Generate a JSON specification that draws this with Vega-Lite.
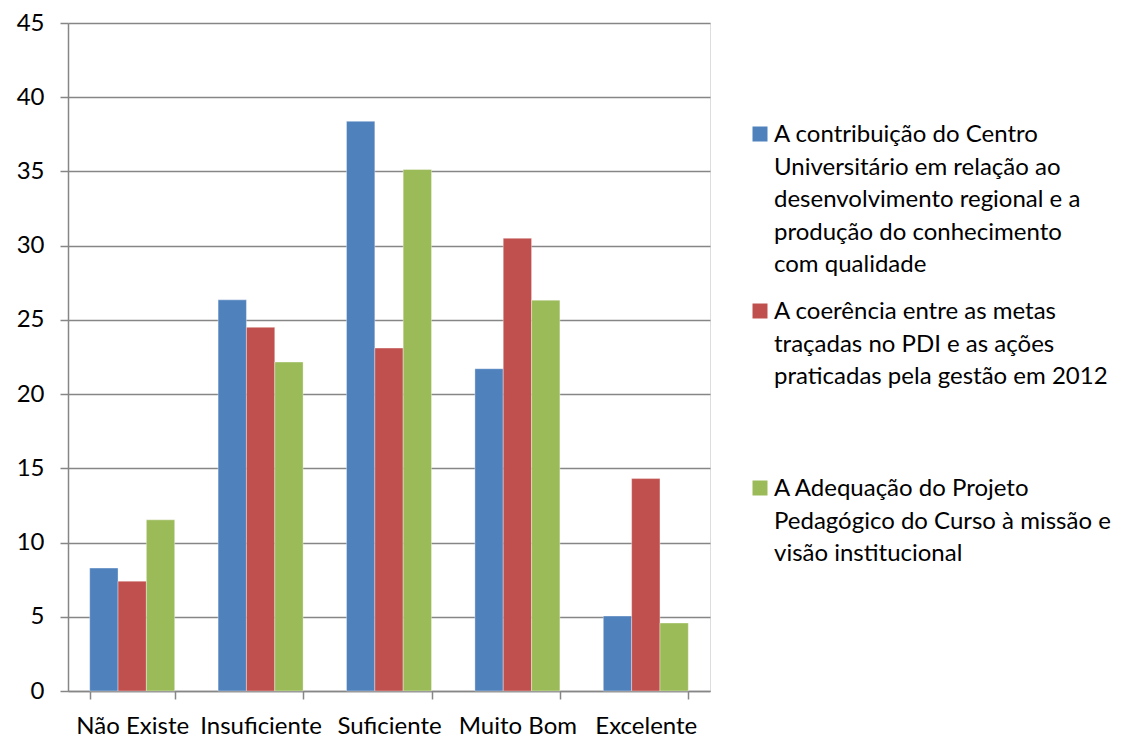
{
  "$schema": "https://vega.github.io/schema/vega-lite/v6.json",
  "width": 642,
  "height": 668,
  "autosize": {"type": "none"},
  "padding": {"left": 68, "top": 23, "right": 412, "bottom": 47},
  "background": "white",
  "config": {
    "style": {"guide-label": {"lineHeight": 32.5, "dy": -11}},
    "text": {"lineHeight": 32.5}
  },
  "data": {
    "values": [
      {"categoria": "Não Existe", "serie": "A contribuição do Centro\nUniversitário em relação ao\ndesenvolvimento regional e a\nprodução do conhecimento\ncom qualidade", "valor": 8.28},
      {"categoria": "Não Existe", "serie": "A coerência entre as metas\ntraçadas no PDI e as ações\npraticadas pela gestão em 2012", "valor": 7.4},
      {"categoria": "Não Existe", "serie": "A Adequação do Projeto\nPedagógico do Curso à missão e\nvisão institucional", "valor": 11.53},
      {"categoria": "Insuficiente", "serie": "A contribuição do Centro\nUniversitário em relação ao\ndesenvolvimento regional e a\nprodução do conhecimento\ncom qualidade", "valor": 26.35},
      {"categoria": "Insuficiente", "serie": "A coerência entre as metas\ntraçadas no PDI e as ações\npraticadas pela gestão em 2012", "valor": 24.5},
      {"categoria": "Insuficiente", "serie": "A Adequação do Projeto\nPedagógico do Curso à missão e\nvisão institucional", "valor": 22.16},
      {"categoria": "Suficiente", "serie": "A contribuição do Centro\nUniversitário em relação ao\ndesenvolvimento regional e a\nprodução do conhecimento\ncom qualidade", "valor": 38.38},
      {"categoria": "Suficiente", "serie": "A coerência entre as metas\ntraçadas no PDI e as ações\npraticadas pela gestão em 2012", "valor": 23.1},
      {"categoria": "Suficiente", "serie": "A Adequação do Projeto\nPedagógico do Curso à missão e\nvisão institucional", "valor": 35.13},
      {"categoria": "Muito Bom", "serie": "A contribuição do Centro\nUniversitário em relação ao\ndesenvolvimento regional e a\nprodução do conhecimento\ncom qualidade", "valor": 21.71},
      {"categoria": "Muito Bom", "serie": "A coerência entre as metas\ntraçadas no PDI e as ações\npraticadas pela gestão em 2012", "valor": 30.5},
      {"categoria": "Muito Bom", "serie": "A Adequação do Projeto\nPedagógico do Curso à missão e\nvisão institucional", "valor": 26.33},
      {"categoria": "Excelente", "serie": "A contribuição do Centro\nUniversitário em relação ao\ndesenvolvimento regional e a\nprodução do conhecimento\ncom qualidade", "valor": 5.05},
      {"categoria": "Excelente", "serie": "A coerência entre as metas\ntraçadas no PDI e as ações\npraticadas pela gestão em 2012", "valor": 14.31},
      {"categoria": "Excelente", "serie": "A Adequação do Projeto\nPedagógico do Curso à missão e\nvisão institucional", "valor": 4.58}
    ]
  },
  "mark": {"type": "bar", "stroke": "white", "strokeWidth": 0.6, "strokeOpacity": 0.6},
  "encoding": {
    "x": {
      "field": "categoria",
      "type": "nominal",
      "sort": ["Não Existe", "Insuficiente", "Suficiente", "Muito Bom", "Excelente"],
      "scale": {"paddingInner": 0.338, "paddingOuter": 0.169},
      "axis": {
        "title": null,
        "labelAngle": 0,
        "labelFont": "Lato",
        "labelFontSize": 24,
        "labelColor": "#000000",
        "labelPadding": 26,
        "tickBand": "extent",
        "tickSize": 8,
        "tickColor": "#868686",
        "domainColor": "#868686",
        "domainWidth": 1.5,
        "tickWidth": 1.5,
        "grid": false
      }
    },
    "xOffset": {
      "field": "serie",
      "type": "nominal",
      "sort": [
        "A contribuição do Centro\nUniversitário em relação ao\ndesenvolvimento regional e a\nprodução do conhecimento\ncom qualidade",
        "A coerência entre as metas\ntraçadas no PDI e as ações\npraticadas pela gestão em 2012",
        "A Adequação do Projeto\nPedagógico do Curso à missão e\nvisão institucional"
      ],
      "scale": {"paddingInner": 0, "paddingOuter": 0}
    },
    "y": {
      "field": "valor",
      "type": "quantitative",
      "scale": {"domain": [0, 45], "nice": false},
      "axis": {
        "title": null,
        "values": [0, 5, 10, 15, 20, 25, 30, 35, 40, 45],
        "labelFont": "Lato",
        "labelFontSize": 24,
        "labelColor": "#000000",
        "labelPadding": 16,
        "labelBaseline": "line-top",
        "labelLineHeight": 22.4,
        "tickSize": 8,
        "tickColor": "#868686",
        "tickWidth": 1.5,
        "domainColor": "#868686",
        "domainWidth": 1.5,
        "gridColor": "#868686",
        "gridWidth": 1.5
      }
    },
    "color": {
      "field": "serie",
      "type": "nominal",
      "scale": {
        "domain": [
          "A contribuição do Centro\nUniversitário em relação ao\ndesenvolvimento regional e a\nprodução do conhecimento\ncom qualidade",
          "A coerência entre as metas\ntraçadas no PDI e as ações\npraticadas pela gestão em 2012",
          "A Adequação do Projeto\nPedagógico do Curso à missão e\nvisão institucional"
        ],
        "range": ["#4F81BD", "#C0504D", "#9BBB59"]
      },
      "legend": {
        "title": null,
        "orient": "none",
        "legendX": 680,
        "legendY": 99,
        "symbolType": "square",
        "symbolSize": 225,
        "symbolStrokeWidth": 0,
        "labelFont": "Lato",
        "labelFontSize": 24,
        "labelColor": "#000000",
        "labelLimit": 500,
        "labelOffset": 2,
        "labelBaseline": "top",
        "rowPadding": 22,
        "labelExpr": "length(split(datum.label, '\\n')) < 5 ? split(datum.label + '\\n \\n ', '\\n') : split(datum.label, '\\n')"
      }
    }
  }
}
